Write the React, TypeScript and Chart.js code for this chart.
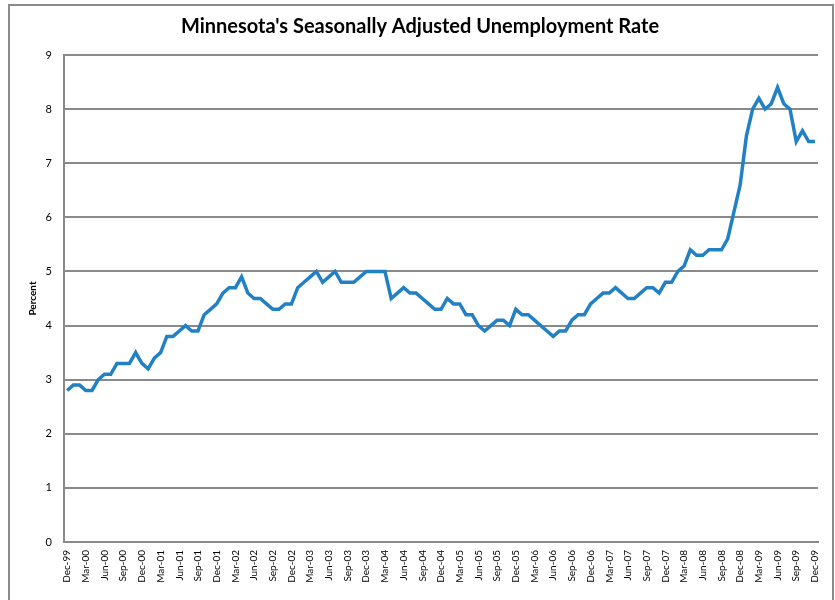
import React, { useEffect, useRef } from "react";
import { Chart, registerables } from "chart.js";

Chart.register(...registerables);

const MONTHS = ["Jan", "Feb", "Mar", "Apr", "May", "Jun", "Jul", "Aug", "Sep", "Oct", "Nov", "Dec"];
const YEARS = ["00", "01", "02", "03", "04", "05", "06", "07", "08", "09"];

const rateDec1999 = [2.8];
const rate2000 = [2.9, 2.9, 2.8, 2.8, 3.0, 3.1, 3.1, 3.3, 3.3, 3.3, 3.5, 3.3];
const rate2001 = [3.2, 3.4, 3.5, 3.8, 3.8, 3.9, 4.0, 3.9, 3.9, 4.2, 4.3, 4.4];
const rate2002 = [4.6, 4.7, 4.7, 4.9, 4.6, 4.5, 4.5, 4.4, 4.3, 4.3, 4.4, 4.4];
const rate2003 = [4.7, 4.8, 4.9, 5.0, 4.8, 4.9, 5.0, 4.8, 4.8, 4.8, 4.9, 5.0];
const rate2004 = [5.0, 5.0, 5.0, 4.5, 4.6, 4.7, 4.6, 4.6, 4.5, 4.4, 4.3, 4.3];
const rate2005 = [4.5, 4.4, 4.4, 4.2, 4.2, 4.0, 3.9, 4.0, 4.1, 4.1, 4.0, 4.3];
const rate2006 = [4.2, 4.2, 4.1, 4.0, 3.9, 3.8, 3.9, 3.9, 4.1, 4.2, 4.2, 4.4];
const rate2007 = [4.5, 4.6, 4.6, 4.7, 4.6, 4.5, 4.5, 4.6, 4.7, 4.7, 4.6, 4.8];
const rate2008 = [4.8, 5.0, 5.1, 5.4, 5.3, 5.3, 5.4, 5.4, 5.4, 5.6, 6.1, 6.6];
const rate2009 = [7.5, 8.0, 8.2, 8.0, 8.1, 8.4, 8.1, 8.0, 7.4, 7.6, 7.4, 7.4];

const rates = [
  ...rateDec1999, ...rate2000, ...rate2001, ...rate2002, ...rate2003, ...rate2004,
  ...rate2005, ...rate2006, ...rate2007, ...rate2008, ...rate2009,
];

const categories: string[] = ["Dec-99"];
YEARS.forEach((y) => MONTHS.forEach((m) => categories.push(`${m}-${y}`)));

const TITLE = "Minnesota's Seasonally Adjusted Unemployment Rate";
const Y_TITLE = "Percent";
const FONT = "Lato, 'Open Sans', sans-serif";
const GRID = "#8a8a8a";

export default function App() {
  const ref = useRef<HTMLCanvasElement | null>(null);
  useEffect(() => {
    if (!ref.current) return;
    const chart = new Chart(ref.current, {
      type: "line",
      data: {
        labels: categories,
        datasets: [
          {
            data: rates,
            borderColor: "#2281c4",
            borderWidth: 3.5,
            pointRadius: 0,
            tension: 0,
            fill: false,
            yAxisID: "y",
          },
        ],
      },
      options: {
        animation: false,
        responsive: false,
        maintainAspectRatio: false,
        layout: { padding: { top: 0, left: 10, right: 5, bottom: 0 } },
        plugins: {
          legend: { display: false },
          tooltip: { enabled: false },
          title: {
            display: true,
            text: TITLE,
            color: "#000",
            font: { family: FONT, size: 20, weight: "bold" },
            padding: { top: 15, bottom: 16 },
          },
        },
        scales: {
          x: {
            type: "category",
            offset: true,
            grid: { display: false, drawTicks: false },
            border: { display: true, color: GRID, width: 2 },
            ticks: {
              autoSkip: false,
              maxRotation: 90,
              minRotation: 90,
              padding: 8,
              color: "#000",
              font: { family: FONT, size: 10 },
              callback: (_v: any, i: number) => (i % 3 === 0 ? categories[i] : null),
            },
            afterFit: (s: any) => {
              s.height = 58;
            },
          },
          y: {
            position: "left",
            min: 0,
            max: 9,
            ticks: {
              stepSize: 1,
              padding: 12,
              color: "#000",
              font: { family: FONT, size: 11 },
            },
            grid: { color: GRID, lineWidth: 2, drawTicks: false },
            border: { display: true, color: GRID, width: 2 },
            title: {
              display: true,
              text: Y_TITLE,
              color: "#000",
              font: { family: FONT, size: 10, weight: "bold" },
              padding: { top: 17, bottom: 0 },
            },
            afterFit: (s: any) => {
              s.width = 54;
            },
          },
          y2: {
            position: "right",
            min: 0,
            max: 9,
            ticks: { display: false },
            grid: { display: false, drawTicks: false },
            border: { display: false },
            afterFit: (s: any) => {
              s.width = 10;
            },
          },
        },
      },
    });
    return () => chart.destroy();
  }, []);

  return (
    <div style={{ position: "absolute", left: 0, top: 0, width: 835, height: 600 }}>
      <div
        style={{
          position: "absolute",
          left: 8,
          top: 4,
          width: 826,
          height: 620,
          border: "2px solid #8c8c8c",
          boxSizing: "border-box",
        }}
      />
      <canvas
        ref={ref}
        width={835}
        height={600}
        style={{ position: "absolute", left: 0, top: 0, width: 835, height: 600 }}
      />
    </div>
  );
}
